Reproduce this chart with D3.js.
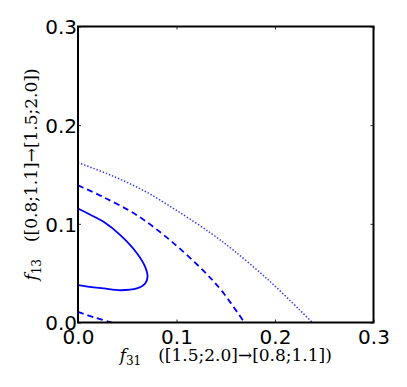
<!DOCTYPE html>
<html>
<head>
<meta charset="utf-8">
<script src="https://cdn.jsdelivr.net/npm/d3@7"></script>
<style>
  body { margin: 0; background: #fff; }
  svg { display: block; }
</style>
</head>
<body>
<div class="canvas"></div>
<script>
const xTicks = [0.0, 0.1, 0.2, 0.3];
const yTicks = [0.0, 0.1, 0.2, 0.3];

// contour lines, [f31, f13]
const solidLoop = [
  [0.0, 0.1155], [0.013, 0.109], [0.026, 0.102], [0.043, 0.0885], [0.06, 0.070],
  [0.0682, 0.0564], [0.0706, 0.0462], [0.0682, 0.0395], [0.0598, 0.0345],
  [0.0429, 0.0327], [0.026, 0.0345], [0.012, 0.036], [0.0, 0.0378]
];
const dashedOuter = [
  [0.0, 0.139], [0.026, 0.127], [0.0598, 0.1087], [0.0935, 0.0834],
  [0.1273, 0.0525], [0.146, 0.032], [0.1689, 0.0]
];
const dashedCorner = [
  [0.0, 0.0108], [0.017, 0.005], [0.0344, 0.0]
];
const dottedOuter = [
  [0.0, 0.162], [0.034, 0.149], [0.068, 0.133], [0.1017, 0.1125],
  [0.1354, 0.0902], [0.1577, 0.0733], [0.1916, 0.0446], [0.2253, 0.0125],
  [0.2378, 0.0]
];

const width = 407, height = 387;
const margin = { left: 78, top: 26.5, right: 33.5, bottom: 64.5 };

const svg = d3.select(".canvas").append("svg")
  .attr("width", width)
  .attr("height", height);

const x = d3.scaleLinear().domain([0, 0.3]).range([margin.left, width - margin.right]);
const y = d3.scaleLinear().domain([0, 0.3]).range([height - margin.bottom, margin.top]);

const line = d3.line()
  .x((d) => x(d[0]))
  .y((d) => y(d[1]))
  .curve(d3.curveCatmullRom.alpha(0.5));

const plot = svg.append("g");

plot.append("path").datum(solidLoop)
  .attr("d", line).attr("fill", "none")
  .attr("stroke", "#0000ff").attr("stroke-width", 1.8);

plot.append("path").datum(dashedOuter)
  .attr("d", line).attr("fill", "none")
  .attr("stroke", "#0000ff").attr("stroke-width", 1.8)
  .attr("stroke-dasharray", "6,4");

plot.append("path").datum(dashedCorner)
  .attr("d", line).attr("fill", "none")
  .attr("stroke", "#0000ff").attr("stroke-width", 1.8)
  .attr("stroke-dasharray", "6,4");

plot.append("path").datum(dottedOuter)
  .attr("d", line).attr("fill", "none")
  .attr("stroke", "#3333ff").attr("stroke-width", 1.5)
  .attr("stroke-dasharray", "1.4,1.9");

// inward ticks on all four sides
const tickLen = 3;
const axisStyle = (g) => {
  g.select(".domain").remove();
  g.selectAll(".tick line").attr("stroke", "#000").attr("stroke-width", 0.8);
};

svg.append("g")
  .attr("transform", `translate(0,${y(0)})`)
  .call(d3.axisBottom(x).tickValues(xTicks).tickSize(-tickLen).tickFormat(d3.format(".1f")))
  .call(axisStyle)
  .call((g) => g.selectAll("text")
    .attr("font-family", "DejaVu Sans").attr("font-size", 20).attr("fill", "#000")
    .attr("y", 6).attr("dy", "0.76em"));

svg.append("g")
  .attr("transform", `translate(0,${y(0.3)})`)
  .call(d3.axisTop(x).tickValues(xTicks).tickSize(-tickLen).tickFormat(""))
  .call(axisStyle);

svg.append("g")
  .attr("transform", `translate(${x(0)},0)`)
  .call(d3.axisLeft(y).tickValues(yTicks).tickSize(-tickLen).tickFormat(d3.format(".1f")))
  .call(axisStyle)
  .call((g) => g.selectAll("text")
    .attr("font-family", "DejaVu Sans").attr("font-size", 20).attr("fill", "#000")
    .attr("x", -1).attr("dy", "0.36em"));

svg.append("g")
  .attr("transform", `translate(${x(0.3)},0)`)
  .call(d3.axisRight(y).tickValues(yTicks).tickSize(-tickLen).tickFormat(""))
  .call(axisStyle);

// frame
svg.append("rect")
  .attr("x", x(0)).attr("y", y(0.3))
  .attr("width", x(0.3) - x(0)).attr("height", y(0) - y(0.3))
  .attr("fill", "none").attr("stroke", "#000").attr("stroke-width", 2);

// axis labels
function label(sel, sub, rest) {
  sel.attr("font-family", "DejaVu Serif").attr("font-size", 17).attr("fill", "#000");
  sel.append("tspan").attr("font-style", "italic").text("f");
  sel.append("tspan").attr("font-size", 12).attr("dy", 4).text(sub);
  sel.append("tspan").attr("dy", -4).attr("xml:space", "preserve").text("\u2003" + rest);
}

svg.append("text")
  .attr("x", (x(0) + x(0.3)) / 2)
  .attr("y", 361)
  .attr("text-anchor", "middle")
  .call(label, "31", "([1.5;2.0]\u2192[0.8;1.1])");

svg.append("text")
  .attr("transform", `translate(37,${(y(0) + y(0.3)) / 2}) rotate(-90)`)
  .attr("text-anchor", "middle")
  .call(label, "13", "([0.8;1.1]\u2192[1.5;2.0])");
</script>
</body>
</html>
